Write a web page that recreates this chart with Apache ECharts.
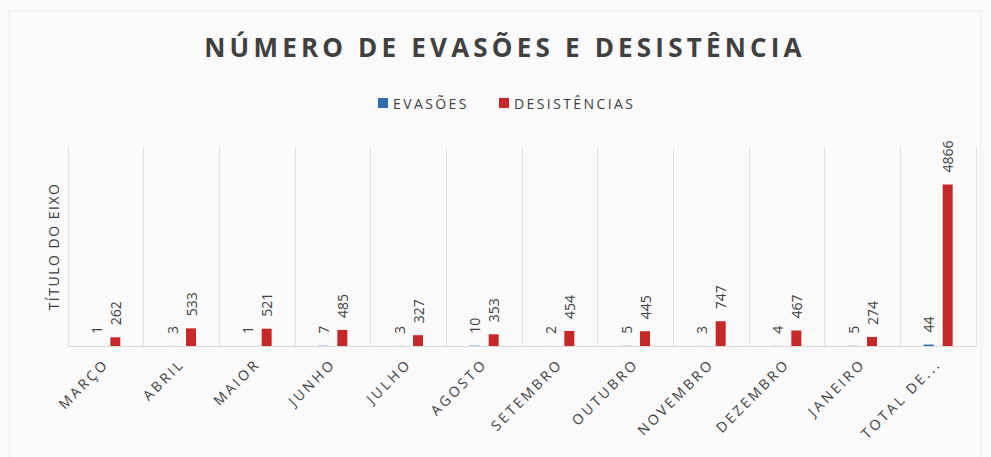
<!DOCTYPE html>
<html>
<head>
<meta charset="utf-8">
<script src="https://cdn.jsdelivr.net/npm/echarts@6/dist/echarts.min.js"></script>
<style>
  html, body { margin: 0; padding: 0; background: #fafafa; }
  #chart { width: 991px; height: 457px; }
</style>
</head>
<body>
<div id="chart"></div>
<script>
// dados
const categorias = ["MARÇO", "ABRIL", "MAIOR", "JUNHO", "JULHO", "AGOSTO", "SETEMBRO",
  "OUTUBRO", "NOVEMBRO", "DEZEMBRO", "JANEIRO", "TOTAL DE..."];
const evasoes = [1, 3, 1, 7, 3, 10, 2, 5, 3, 4, 5, 44];
const desistencias = [262, 533, 521, 485, 327, 353, 454, 445, 747, 467, 274, 4866];

const titulo = "NÚMERO DE EVASÕES E DESISTÊNCIA";
const nomeEixo = "TÍTULO DO EIXO";
const fonte = "'Open Sans', sans-serif";

function labelBarra() {
  return {
    show: true,
    position: "top",
    rotate: 90,
    align: "left",
    verticalAlign: "middle",
    distance: 12,
    color: "#404040",
    fontSize: 14,
    fontFamily: fonte,
  };
}

let myChart = echarts.init(document.getElementById("chart"), null, { renderer: "svg" });
let options = {
  animation: false,
  backgroundColor: "#fafafa",
  graphic: [
    {
      type: "rect",
      shape: { x: 9, y: 11, width: 972, height: 460 },
      style: { fill: "none", stroke: "#ececec", lineWidth: 1 },
      silent: true,
    },
  ],
  title: {
    text: titulo,
    left: 500,
    textAlign: "center",
    top: 29,
    textStyle: {
      color: "#404040",
      fontSize: 26,
      fontWeight: "bold",
      fontFamily: fonte,
    },
  },
  legend: {
    top: 91,
    left: 373,
    itemWidth: 10,
    itemHeight: 10,
    itemGap: 47,
    icon: "rect",
    textStyle: {
      color: "#404040",
      fontSize: 14,
      fontFamily: fonte,
    },
    data: ["EVASÕES", "DESISTÊNCIAS"],
  },
  grid: {
    left: 68,
    right: 15,
    top: 147,
    bottom: 111,
  },
  xAxis: {
    type: "category",
    data: categorias,
    axisLine: { lineStyle: { color: "#d9d9d9" } },
    axisTick: { show: false },
    splitLine: {
      show: true,
      lineStyle: { color: "#e3e3e3", width: 1 },
    },
    axisLabel: {
      rotate: 45,
      margin: 15,
      color: "#404040",
      fontSize: 14,
      fontFamily: fonte,
    },
  },
  yAxis: {
    type: "value",
    min: 0,
    max: 6000,
    interval: 1000,
    name: nomeEixo,
    nameLocation: "middle",
    nameGap: 8,
    nameTextStyle: {
      color: "#404040",
      fontSize: 14,
      fontFamily: fonte,
    },
    axisLine: { show: false },
    axisTick: { show: false },
    axisLabel: { show: false },
    splitLine: { show: false },
  },
  series: [
    {
      name: "EVASÕES",
      type: "bar",
      data: evasoes,
      barWidth: 10,
      barGap: "90%",
      itemStyle: { color: "#2e6db4" },
      label: labelBarra(),
    },
    {
      name: "DESISTÊNCIAS",
      type: "bar",
      data: desistencias,
      barWidth: 10,
      itemStyle: { color: "#c62828" },
      label: labelBarra(),
    },
  ],
};
myChart.setOption(options);

// espaçamento entre letras (o ECharts não tem essa opção)
function espacar() {
  document.querySelectorAll("#chart svg text").forEach(function (t) {
    let s = t.textContent;
    let ls = 0;
    if (s === titulo) ls = 4.2;
    else if (categorias.indexOf(s) >= 0) ls = 2.8;
    else if (s === "EVASÕES" || s === "DESISTÊNCIAS") ls = 2.4;
    else if (s === nomeEixo) ls = 1.5;
    if (ls) t.style.letterSpacing = ls + "px";
  });
}
myChart.on("finished", espacar);
setTimeout(espacar, 50);
</script>
</body>
</html>
